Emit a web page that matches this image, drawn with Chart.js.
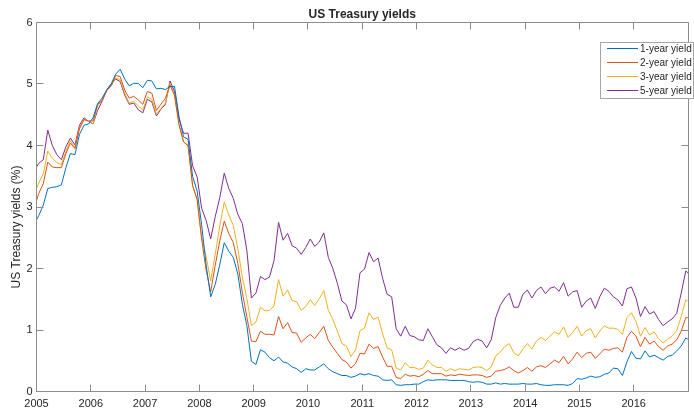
<!DOCTYPE html>
<html>
<head>
<meta charset="utf-8">
<script src="https://cdn.jsdelivr.net/npm/chart.js@4"></script>
<style>
  html, body { margin: 0; padding: 0; background: #ffffff; }
  #wrap { width: 694px; height: 408px; position: relative; }
</style>
</head>
<body>
<div id="wrap"><canvas id="c" width="694" height="408"></canvas></div>
<script>
// ---------------- data ----------------
const chartTitle = 'US Treasury yields';
const yAxisLabel = 'US Treasury yields (%)';
const seriesNames = ['1-year yield', '2-year yield', '3-year yield', '5-year yield'];
const firstYear = 2005;
const lastYear = 2016;
const xTickYears = [2005, 2006, 2007, 2008, 2009, 2010, 2011, 2012, 2013, 2014, 2015, 2016];
const yTickValues = [0, 1, 2, 3, 4, 5, 6];

// first value = start of Jan 2005, then one value per month (mid-month), last value = end of Dec 2016
const yield1y = [2.79,
  2.86, 3.03, 3.30, 3.32, 3.33, 3.36, 3.64, 3.87, 3.85, 4.18, 4.33, 4.35,
  4.45, 4.68, 4.77, 4.90, 5.00, 5.16, 5.24, 5.08, 4.97, 5.01, 5.01, 4.94,
  5.06, 5.05, 4.92, 4.93, 4.91, 4.96, 4.96, 4.47, 4.14, 4.10, 3.50, 3.26,
  2.71, 2.05, 1.54, 1.74, 2.06, 2.42, 2.28, 2.18, 1.91, 1.42, 1.07, 0.49,
  0.44, 0.68, 0.64, 0.55, 0.50, 0.56, 0.48, 0.46, 0.40, 0.37, 0.31, 0.37,
  0.35, 0.35, 0.40, 0.45, 0.37, 0.32, 0.29, 0.26, 0.26, 0.23, 0.25, 0.29,
  0.27, 0.29, 0.26, 0.25, 0.19, 0.18, 0.19, 0.11, 0.10, 0.11, 0.11, 0.12,
  0.12, 0.16, 0.19, 0.18, 0.19, 0.19, 0.19, 0.18, 0.18, 0.18, 0.18, 0.16,
  0.15, 0.16, 0.15, 0.12, 0.12, 0.14, 0.12, 0.13, 0.12, 0.12, 0.12, 0.13,
  0.12, 0.12, 0.13, 0.11, 0.10, 0.10, 0.11, 0.11, 0.11, 0.10, 0.13, 0.21,
  0.20, 0.22, 0.25, 0.23, 0.24, 0.28, 0.30, 0.38, 0.37, 0.26, 0.48, 0.65,
  0.54, 0.53, 0.66, 0.56, 0.59, 0.55, 0.51, 0.57, 0.59, 0.66, 0.74, 0.87,
  0.85];

const yield2y = [3.10,
  3.22, 3.38, 3.73, 3.65, 3.64, 3.64, 3.87, 4.04, 3.95, 4.27, 4.42, 4.40,
  4.40, 4.67, 4.73, 4.89, 4.97, 5.14, 5.12, 4.90, 4.77, 4.80, 4.74, 4.67,
  4.88, 4.85, 4.57, 4.67, 4.77, 4.98, 4.82, 4.34, 4.06, 3.99, 3.35, 3.12,
  2.48, 1.97, 1.62, 2.05, 2.45, 2.77, 2.57, 2.42, 2.08, 1.61, 1.21, 0.82,
  0.81, 0.98, 0.93, 0.93, 0.92, 1.22, 1.02, 1.12, 0.96, 0.95, 0.80, 0.87,
  0.93, 0.86, 0.96, 1.06, 0.83, 0.72, 0.62, 0.52, 0.48, 0.38, 0.45, 0.62,
  0.61, 0.77, 0.70, 0.73, 0.56, 0.41, 0.41, 0.23, 0.21, 0.28, 0.25, 0.26,
  0.24, 0.28, 0.34, 0.29, 0.29, 0.29, 0.25, 0.27, 0.26, 0.28, 0.27, 0.26,
  0.27, 0.27, 0.26, 0.23, 0.25, 0.33, 0.34, 0.36, 0.40, 0.34, 0.30, 0.34,
  0.39, 0.33, 0.40, 0.42, 0.39, 0.45, 0.51, 0.47, 0.57, 0.45, 0.53, 0.64,
  0.55, 0.62, 0.64, 0.54, 0.61, 0.69, 0.67, 0.70, 0.71, 0.64, 0.88, 0.98,
  0.90, 0.73, 0.88, 0.77, 0.82, 0.73, 0.67, 0.74, 0.77, 0.84, 0.98, 1.20,
  1.20];

const yield3y = [3.30,
  3.39, 3.54, 3.91, 3.79, 3.72, 3.69, 3.91, 4.08, 3.96, 4.29, 4.43, 4.39,
  4.35, 4.64, 4.74, 4.89, 4.97, 5.10, 5.07, 4.85, 4.69, 4.72, 4.64, 4.58,
  4.79, 4.75, 4.51, 4.60, 4.69, 5.01, 4.82, 4.34, 4.06, 4.01, 3.35, 3.13,
  2.51, 2.19, 1.80, 2.23, 2.69, 3.08, 2.87, 2.70, 2.32, 1.86, 1.51, 1.07,
  1.13, 1.37, 1.31, 1.32, 1.39, 1.82, 1.55, 1.65, 1.48, 1.46, 1.32, 1.38,
  1.49, 1.40, 1.51, 1.64, 1.32, 1.17, 0.98, 0.78, 0.74, 0.57, 0.67, 0.99,
  1.03, 1.28, 1.17, 1.21, 0.94, 0.71, 0.68, 0.38, 0.35, 0.47, 0.39, 0.39,
  0.36, 0.38, 0.51, 0.43, 0.39, 0.39, 0.33, 0.37, 0.34, 0.37, 0.36, 0.35,
  0.39, 0.40, 0.39, 0.34, 0.40, 0.58, 0.64, 0.73, 0.78, 0.63, 0.58, 0.69,
  0.78, 0.69, 0.82, 0.88, 0.83, 0.90, 0.97, 0.93, 1.05, 0.88, 0.96, 1.06,
  0.90, 0.99, 1.02, 0.87, 0.98, 1.07, 1.03, 1.03, 1.01, 0.93, 1.20, 1.28,
  1.14, 0.90, 1.04, 0.92, 0.97, 0.86, 0.79, 0.85, 0.90, 0.99, 1.22, 1.49,
  1.47];

const yield5y = [3.65,
  3.71, 3.77, 4.25, 4.00, 3.85, 3.77, 3.98, 4.12, 4.01, 4.33, 4.45, 4.39,
  4.35, 4.57, 4.72, 4.90, 5.00, 5.08, 5.04, 4.82, 4.67, 4.69, 4.58, 4.53,
  4.75, 4.71, 4.48, 4.59, 4.67, 5.05, 4.88, 4.43, 4.20, 4.20, 3.67, 3.49,
  2.98, 2.78, 2.48, 2.84, 3.15, 3.55, 3.30, 3.14, 2.88, 2.73, 2.29, 1.52,
  1.60, 1.87, 1.82, 1.86, 2.13, 2.75, 2.46, 2.57, 2.37, 2.33, 2.23, 2.34,
  2.48, 2.36, 2.43, 2.58, 2.18, 2.00, 1.76, 1.47, 1.41, 1.18, 1.35, 1.93,
  1.99, 2.26, 2.11, 2.17, 1.84, 1.58, 1.54, 1.02, 0.90, 1.06, 0.91, 0.89,
  0.84, 0.83, 1.02, 0.89, 0.76, 0.71, 0.62, 0.71, 0.67, 0.71, 0.67, 0.70,
  0.81, 0.85, 0.82, 0.71, 0.84, 1.20, 1.40, 1.52, 1.60, 1.37, 1.37, 1.58,
  1.65, 1.52, 1.64, 1.70, 1.59, 1.68, 1.70, 1.63, 1.77, 1.55, 1.62, 1.64,
  1.37, 1.47, 1.52, 1.35, 1.54, 1.68, 1.63, 1.54, 1.49, 1.39, 1.67, 1.70,
  1.52, 1.22, 1.38, 1.26, 1.30, 1.17, 1.07, 1.13, 1.18, 1.27, 1.60, 1.96,
  1.93];

// ---------------- build x positions (decimal years) ----------------
const xDates = [firstYear];
for (let yr = firstYear; yr <= lastYear; yr++) {
  for (let m = 0; m < 12; m++) xDates.push(yr + (m + 0.5) / 12);
}
xDates.push(lastYear + 0.997);

const seriesValues = [yield1y, yield2y, yield3y, yield5y];
const seriesColors = ['#0072BD', '#D95319', '#EDB120', '#7E2F8E'];
const FONT = "'Liberation Sans', Arial, Helvetica, sans-serif";
const TEXT = '#262626';
const AXIS = '#8c8c8c';

const datasets = seriesValues.map((vals, i) => ({
  label: seriesNames[i],
  data: vals.map((v, k) => ({ x: xDates[k], y: v })),
  borderColor: seriesColors[i],
  backgroundColor: seriesColors[i],
  borderWidth: 1,
  pointRadius: 0,
  tension: 0,
  fill: false
}));

const matlabAxes = {
  id: 'matlabAxes',
  afterDraw(chart) {
    const { ctx, chartArea: a, scales: { x, y } } = chart;
    const snap = v => Math.floor(v) + 0.5;
    ctx.save();
    ctx.strokeStyle = AXIS;
    ctx.lineWidth = 1;
    const L = snap(a.left), R = snap(a.right), T = snap(a.top), B = snap(a.bottom);
    ctx.beginPath();
    ctx.moveTo(L, T); ctx.lineTo(R, T); ctx.lineTo(R, B); ctx.lineTo(L, B); ctx.closePath();
    ctx.stroke();
    const tl = 7;
    ctx.beginPath();
    xTickYears.forEach(v => {
      const px = snap(x.getPixelForValue(v));
      ctx.moveTo(px, B); ctx.lineTo(px, B - tl);
      ctx.moveTo(px, T); ctx.lineTo(px, T + tl);
    });
    yTickValues.forEach(v => {
      const py = snap(y.getPixelForValue(v));
      ctx.moveTo(L, py); ctx.lineTo(L + tl, py);
      ctx.moveTo(R, py); ctx.lineTo(R - tl, py);
    });
    ctx.stroke();

    // y-axis label
    ctx.fillStyle = TEXT;
    ctx.font = '12px ' + FONT;
    ctx.textAlign = 'center';
    ctx.textBaseline = 'middle';
    ctx.save();
    ctx.translate(17, 227);
    ctx.rotate(-Math.PI / 2);
    ctx.fillText(yAxisLabel, 0, 0);
    ctx.restore();

    // legend
    const bx = 600.5, by = 42.5, bw = 93, bh = 56;
    ctx.fillStyle = '#ffffff';
    ctx.fillRect(bx, by, bw, bh);
    ctx.strokeStyle = '#a6a6a6';
    ctx.strokeRect(bx, by, bw, bh);
    ctx.font = '10px ' + FONT;
    ctx.textAlign = 'left';
    ctx.textBaseline = 'middle';
    chart.data.datasets.forEach((ds, i) => {
      const ry = 48.5 + i * 14;
      ctx.strokeStyle = ds.borderColor;
      ctx.beginPath();
      ctx.moveTo(607, ry); ctx.lineTo(638, ry);
      ctx.stroke();
      ctx.fillStyle = TEXT;
      ctx.fillText(ds.label, 640, ry + 0.5);
    });
    ctx.restore();
  }
};

new Chart(document.getElementById('c'), {
  type: 'line',
  data: { datasets },
  options: {
    responsive: false,
    animation: false,
    devicePixelRatio: 1,
    layout: { padding: { left: 0, right: 0, top: 0, bottom: 0 } },
    plugins: {
      legend: { display: false },
      tooltip: { enabled: false },
      title: {
        display: true,
        text: chartTitle,
        fullSize: false,
        color: TEXT,
        font: { family: FONT, size: 12, weight: 'bold' },
        padding: { top: 7, bottom: 1.1 }
      }
    },
    scales: {
      x: {
        type: 'linear',
        min: firstYear,
        max: lastYear + 1,
        grid: { display: false, drawTicks: false },
        border: { display: false },
        afterFit: s => { s.height = 16.5; },
        afterBuildTicks: s => { s.ticks = xTickYears.concat([lastYear + 1]).map(v => ({ value: v })); },
        ticks: {
          autoSkip: false,
          maxRotation: 0,
          padding: 6,
          color: TEXT,
          font: { family: FONT, size: 11 },
          callback: v => (v <= lastYear ? String(v) : '')
        }
      },
      y: {
        min: 0,
        max: 6,
        grid: { display: false, drawTicks: false },
        border: { display: false },
        afterFit: s => { s.width = 36.5; },
        afterBuildTicks: s => { s.ticks = yTickValues.map(v => ({ value: v })); },
        ticks: {
          padding: 4,
          color: TEXT,
          font: { family: FONT, size: 11 },
          callback: v => String(v)
        }
      }
    }
  },
  plugins: [matlabAxes]
});
</script>
</body>
</html>
